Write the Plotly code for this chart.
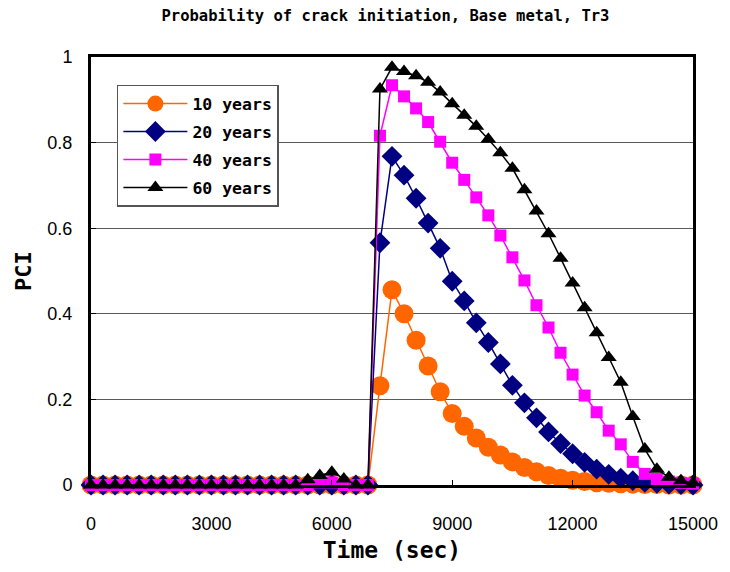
import plotly.graph_objects as go

# Time grid (sec)
time_sec = [0, 300, 600, 900, 1200, 1500, 1800, 2100, 2400, 2700,
            3000, 3300, 3600, 3900, 4200, 4500, 4800, 5100, 5400, 5700,
            6000, 6300, 6600, 6900, 7200, 7500, 7800, 8100, 8400, 8700,
            9000, 9300, 9600, 9900, 10200, 10500, 10800, 11100, 11400, 11700,
            12000, 12300, 12600, 12900, 13200, 13500, 13800, 14100, 14400, 14700,
            15000]

# Probability of crack initiation for each service life
pci_10y = [0] * 24 + [0.232, 0.456, 0.400, 0.338, 0.278, 0.218, 0.167, 0.137, 0.110, 0.088,
                      0.070, 0.054, 0.041, 0.031, 0.022, 0.016, 0.011, 0.008, 0.005, 0.004,
                      0.003, 0.002, 0.001, 0.001, 0.0, 0.0, 0.0]
pci_20y = [0] * 24 + [0.566, 0.768, 0.724, 0.670, 0.612, 0.553, 0.476, 0.430, 0.379, 0.333,
                      0.283, 0.233, 0.192, 0.157, 0.124, 0.097, 0.073, 0.053, 0.037, 0.025,
                      0.016, 0.010, 0.006, 0.004, 0.002, 0.001, 0.0]
pci_40y = [0] * 19 + [0.006, 0.006, 0, 0, 0] + [
                      0.816, 0.934, 0.908, 0.880, 0.848, 0.802, 0.753, 0.713, 0.672, 0.630,
                      0.583, 0.532, 0.478, 0.420, 0.368, 0.309, 0.258, 0.209, 0.170, 0.127,
                      0.095, 0.054, 0.026, 0.014, 0.008, 0.005, 0.003]
pci_60y = [0] * 18 + [0.012, 0.022, 0.030, 0.014, 0, 0] + [
                      0.925, 0.976, 0.966, 0.956, 0.941, 0.918, 0.891, 0.864, 0.838, 0.808,
                      0.776, 0.740, 0.690, 0.640, 0.587, 0.530, 0.472, 0.414, 0.356, 0.298,
                      0.240, 0.160, 0.084, 0.037, 0.018, 0.010, 0.005]

x_ticks = [0, 3000, 6000, 9000, 12000, 15000]
y_ticks = [0, 0.2, 0.4, 0.6, 0.8, 1]

series = [
    ("10 years", pci_10y, "#FF6600", "circle", 19),
    ("20 years", pci_20y, "#000080", "diamond", 16),
    ("40 years", pci_40y, "#FF00FF", "square", 12),
    ("60 years", pci_60y, "#000000", "triangle-up", 14),
]

MONO = "DejaVu Sans Mono"

fig = go.Figure()
for name, vals, color, symbol, size in series:
    fig.add_trace(go.Scatter(
        x=time_sec, y=vals, name=name, legendgroup=name, mode="lines+markers",
        line=dict(color=color, width=1.5),
        marker=dict(symbol=symbol, size=size, color=color, line=dict(width=0)),
        cliponaxis=False,
    ))

fig.update_layout(
    width=730, height=572,
    margin=dict(l=91, r=32, t=57, b=86),
    paper_bgcolor="white", plot_bgcolor="white",
    title=dict(text="Probability of crack initiation, Base metal, Tr3",
               font=dict(family=MONO, size=15.5, color="black", weight="bold"),
               x=0.528, xanchor="center", y=0.972, yanchor="middle"),
    xaxis=dict(range=[0, 15000], tickvals=x_ticks, ticktext=[str(v) for v in x_ticks],
               ticks="inside", ticklen=5, tickcolor="black", tickwidth=1,
               showline=True, linecolor="black", linewidth=3, mirror=True,
               showgrid=False, zeroline=False,
               tickfont=dict(family="Liberation Sans", size=18, color="black"),
               ticklabelstandoff=20,
               title=dict(text="Time (sec)", standoff=10,
                          font=dict(family=MONO, size=23, color="black", weight="bold"))),
    yaxis=dict(range=[0, 1], tickvals=y_ticks, ticktext=["0", "0.2", "0.4", "0.6", "0.8", "1"],
               ticks="inside", ticklen=5, tickcolor="black", tickwidth=1,
               showline=True, linecolor="black", linewidth=3, mirror=True,
               showgrid=True, gridcolor="#5a5a5a", gridwidth=1.2, zeroline=False,
               tickfont=dict(family="Liberation Sans", size=18, color="black"),
               ticklabelstandoff=12,
               title=dict(text="PCI", standoff=10,
                          font=dict(family=MONO, size=22, color="black", weight="bold"))),
    legend=dict(x=0.043, y=0.935, xanchor="left", yanchor="top",
                bgcolor="white", bordercolor="#555555", borderwidth=1.5,
                font=dict(family=MONO, size=16.5, color="black", weight="bold"),
                itemwidth=64, traceorder="grouped", tracegroupgap=3.5),
    showlegend=True,
)

fig.write_html("out.html")
